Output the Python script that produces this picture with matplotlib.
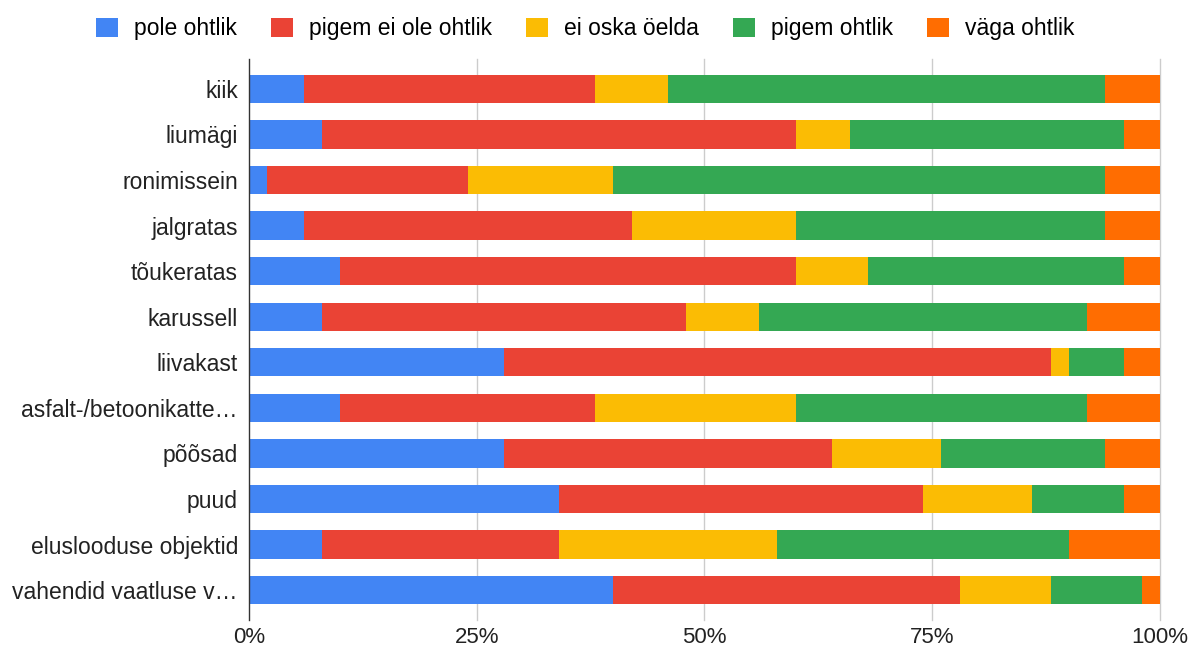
import matplotlib.pyplot as plt
import numpy as np

plt.rcParams['font.family'] = ['Liberation Sans', 'DejaVu Sans']

categories = ['kiik', 'liumägi', 'ronimissein', 'jalgratas', 'tõukeratas', 'karussell',
              'liivakast', 'asfalt-/betoonikatte…', 'põõsad', 'puud',
              'eluslooduse objektid', 'vahendid vaatluse v…']
series = ['pole ohtlik', 'pigem ei ole ohtlik', 'ei oska öelda', 'pigem ohtlik', 'väga ohtlik']
pole = [6, 8, 2, 6, 10, 8, 28, 10, 28, 34, 8, 40]
pigem_ei = [32, 52, 22, 36, 50, 40, 60, 28, 36, 40, 26, 38]
ei_oska = [8, 6, 16, 18, 8, 8, 2, 22, 12, 12, 24, 10]
pigem = [48, 30, 54, 34, 28, 36, 6, 32, 18, 10, 32, 10]
vaga = [6, 4, 6, 6, 4, 8, 4, 8, 6, 4, 10, 2]
colors = ['#4285F4', '#EA4335', '#FBBC04', '#34A853', '#FF6D01']

fig = plt.figure(figsize=(11.98, 6.54), dpi=100)
ax = fig.add_axes([249 / 1198, 1 - 613 / 654, (1160 - 249) / 1198, (613 - 66) / 654])

y = np.arange(len(categories))
left = np.zeros(len(categories))
for name, vals, c in zip(series, [pole, pigem_ei, ei_oska, pigem, vaga], colors):
    ax.barh(y, vals, left=left, height=0.62, color=c, label=name, zorder=3)
    left += np.array(vals)

ax.set_ylim(len(categories) - 0.5, -0.5)
ax.set_xlim(0, 100)
ax.set_yticks(y)
ax.set_yticklabels(categories, fontsize=16.5, color='#222222')
ax.set_xticks([0, 25, 50, 75, 100])
ax.set_xticklabels(['0%', '25%', '50%', '75%', '100%'], fontsize=16, color='#222222')
ax.tick_params(axis='y', length=0, pad=8)
ax.tick_params(axis='x', length=0, pad=10)
for s in ['top', 'right', 'bottom', 'left']:
    ax.spines[s].set_visible(False)
for xv in [25, 50, 75, 100]:
    ax.axvline(xv, ymin=-0.012, ymax=1.012, color='#cccccc', lw=1, zorder=1, clip_on=False)
ax.axvline(0, ymin=-0.012, ymax=1.012, color='#333333', lw=1, zorder=4, clip_on=False)

fig.legend(loc='upper center', bbox_to_anchor=(0.4885, 1.005), ncol=5, frameon=False,
           fontsize=16.5, handlelength=0.95, handleheight=0.95, columnspacing=1.5,
           handletextpad=0.7)

plt.savefig('out.png', dpi=100)
